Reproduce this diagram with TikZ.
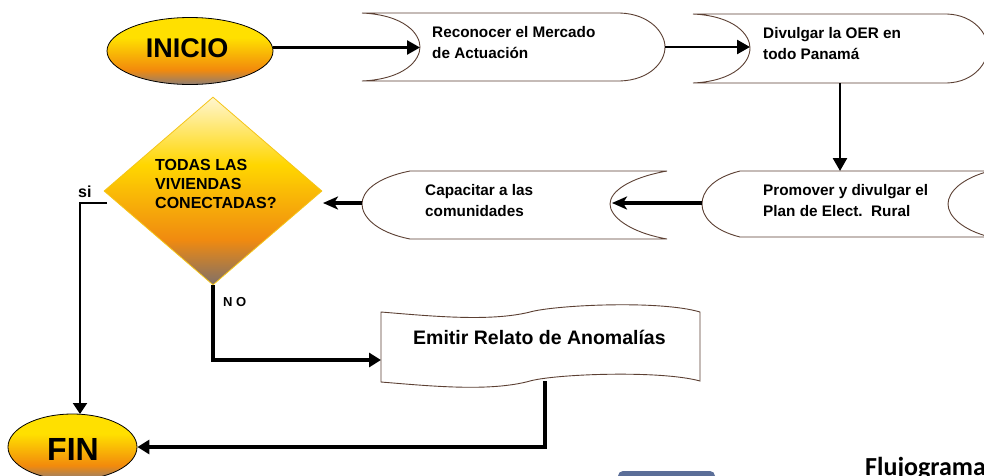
\documentclass[tikz,border=0pt]{standalone}
\usepackage{fontspec}
\setmainfont{Liberation Sans}
\newfontfamily\calib{Carlito}
\usetikzlibrary{shapes.geometric,arrows.meta}
\definecolor{ovyellow}{HTML}{FFE000}
\definecolor{ovorange}{HTML}{F28A0C}
\definecolor{ovgrey}{HTML}{8E7E74}
\definecolor{dpale}{HTML}{FFF6D0}
\definecolor{dyellow}{HTML}{FFD600}
\definecolor{dorange}{HTML}{F08A10}
\definecolor{dgrey}{HTML}{807068}
\definecolor{dedge}{HTML}{F5C518}
\definecolor{boxbrown}{HTML}{5C4033}
\definecolor{blueb}{HTML}{5B6E98}
\pgfdeclareverticalshading{ovalsh}{100bp}{color(0bp)=(ovgrey); color(25bp)=(ovgrey); color(36bp)=(ovorange); color(60bp)=(ovyellow); color(75bp)=(ovyellow); color(100bp)=(ovyellow)}
\pgfdeclareverticalshading{dsh}{100bp}{color(0bp)=(dgrey); color(25bp)=(dgrey); color(37bp)=(dorange); color(57bp)=(dyellow); color(75bp)=(dpale); color(100bp)=(dpale)}
\newcommand\twoln[2]{\vtop{\hbox{#1}\hbox{#2}}}
\newcommand\threeln[3]{\vtop{\hbox{#1}\hbox{#2}\hbox{#3}}}
\begin{document}
\begin{tikzpicture}[x=1pt,y=-1pt,
  boxline/.style={draw=boxbrown, line width=0.9pt},
  boxtext/.style={font=\fontsize{15.3}{21}\selectfont\bfseries, anchor=base west, inner sep=0},
  conn/.style={line width=2.6pt, -{Triangle[length=13pt,width=14pt]}},
  connthick/.style={line width=3.6pt, -{Stealth[length=15pt,width=13pt,inset=4pt]}},
  connsi/.style={line width=2.3pt, -{Triangle[length=11pt,width=14pt]}},
  connno/.style={line width=3.3pt, -{Triangle[length=12pt,width=14pt]}},
  oval/.style={ellipse, draw=black, line width=0.8pt, shading=ovalsh, inner sep=0}]
\useasboundingbox (0,0) rectangle (984,475);
\clip (0,0) rectangle (984,475);
\fill[white] (0,0) rectangle (984,475);

% Start / end
\node[oval, minimum width=166pt, minimum height=67pt] (inicio) at (190,51) {};
\node[anchor=base, inner sep=0, font=\fontsize{27}{30}\selectfont\bfseries] (tinicio) at (187,57) {INICIO};
\node[oval, minimum width=129pt, minimum height=66pt] (fin) at (72.5,447) {};
\node[anchor=base, inner sep=0, font=\fontsize{32}{36}\selectfont\bfseries] (tfin) at (73,460) {FIN};

% Reconocer
\draw[boxline] (362,13) -- (620,13) .. controls (650,14) and (665,33) .. (665,47) .. controls (665,62) and (650,80) .. (620,81) -- (362,81) .. controls (405,79) and (420,60) .. (420,47) .. controls (420,34) and (405,15) .. cycle;
\node[boxtext] (trec) at (432,37.5) {\twoln{Reconocer el Mercado}{de Actuación}};
\coordinate (Rin) at (420,47.5);
\coordinate (Rout) at (665,47);

% Divulgar
\draw[boxline] (693,14) -- (947,14) .. controls (975,15) and (988,35) .. (988,48) .. controls (988,62) and (975,82) .. (947,83) -- (693,83) .. controls (735,81) and (750,62) .. (750,48) .. controls (750,35) and (735,16) .. cycle;
\node[boxtext] (tdiv) at (763,38) {\twoln{Divulgar la OER en}{todo Panamá}};
\coordinate (Din) at (750,47);
\coordinate (Dbot) at (840,83);

% Promover
\draw[boxline] (740,171) -- (990,171) .. controls (962,178) and (948,192) .. (948,204) .. controls (948,216) and (962,230) .. (990,237) -- (740,237) .. controls (712,230) and (702,216) .. (702,204) .. controls (702,192) and (712,178) .. cycle;
\node[boxtext] (tpro) at (763,195) {\twoln{Promover y divulgar el}{Plan de Elect.\ \ Rural}};
\coordinate (Ptop) at (840,171);
\coordinate (Pout) at (702,203);

% Capacitar
\draw[boxline] (410,171) -- (667,171) .. controls (628,178) and (610,192) .. (610,204) .. controls (610,216) and (628,232) .. (667,239) -- (410,239) .. controls (375,232) and (362,216) .. (362,204) .. controls (362,192) and (375,178) .. cycle;
\node[boxtext] (tcap) at (425,195) {\twoln{Capacitar a las}{comunidades}};
\coordinate (Cin) at (612,203);
\coordinate (Cout) at (362,203);

% Decision
\node[diamond, draw=dedge, line width=0.8pt, shading=dsh, minimum width=218pt, minimum height=188pt, inner sep=0] (dec) at (213,191) {};
\node[anchor=base west, inner sep=0, font=\fontsize{16}{19}\selectfont\bfseries] (tdec) at (155,170) {\threeln{TODAS LAS}{VIVIENDAS}{CONECTADAS?}};
\coordinate (decR) at (323,203);
\coordinate (siA) at (107,203);
\coordinate (finTop) at (80,414);

% Emitir
\draw[boxline] (381,312) .. controls (430,316) and (490,322) .. (530,312) .. controls (555,305) and (660,300) .. (700,312) -- (700,381) .. controls (660,370) and (555,374) .. (530,381) .. controls (490,392) and (430,386) .. (381,382) -- cycle;
\node[anchor=base west, inner sep=0, font=\fontsize{19.5}{22}\selectfont\bfseries] (temi) at (413,344) {Emitir Relato de Anomalías};
\coordinate (Ein) at (381,360);
\coordinate (Ebot) at (545,381);
\coordinate (Iout) at (273,47.5);

% Labels
\node[anchor=base west, inner sep=0, font=\fontsize{16}{18}\selectfont\bfseries] (lsi) at (78,197) {si};
\node[anchor=base west, inner sep=0, font=\fontsize{13}{15}\selectfont\bfseries] (lno) at (223,306) {N O};

% Connectors
\draw[conn] (Iout) -- (Rin);
\draw[conn] (Rout) -- (Din);
\draw[conn] (Dbot) -- (Ptop);
\draw[connthick] (Pout) -- (Cin);
\draw[connthick] (Cout) -- (decR);
\draw[connsi] (siA) -| (finTop);
\draw[connno] (dec.south) |- (Ein);
\draw[connno] (Ebot) |- (fin.east);

% Bottom fragments
\fill[blueb, rounded corners=5pt] (618,471) rectangle (715,495);
\node[anchor=base west, inner sep=0, font=\calib\bfseries\fontsize{26}{30}\selectfont] (titulo) at (865,475) {Flujograma};
\end{tikzpicture}
\end{document}
